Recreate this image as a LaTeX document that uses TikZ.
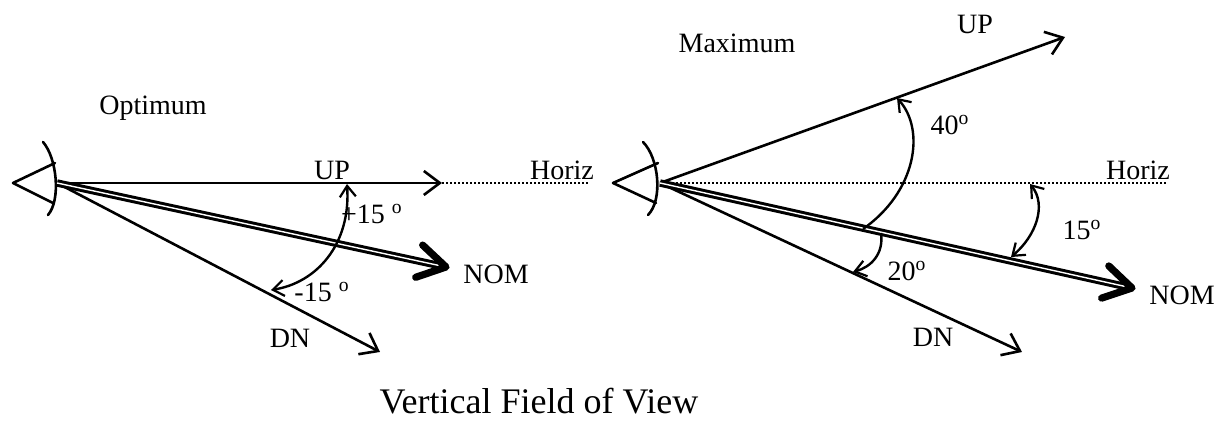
\documentclass[tikz,border=0pt]{standalone}
\usepackage{fontspec}
\setmainfont{Liberation Serif}
\usetikzlibrary{arrows.meta,calc}

\begin{document}
\begin{tikzpicture}[x=0.5pt,y=-0.5pt,
  lbl/.style={font=\fontsize{14}{16}\selectfont, inner sep=0pt},
  eyeline/.style={line width=1.3pt, line join=round, line cap=round},
  ray/.style={line width=1.3pt, -{Straight Barb[length=8pt,width=12pt,line width=1.3pt]}},
  horizline/.style={line width=1pt, densely dotted},
  nomshaft/.style={line width=1.5pt, double=white, double distance=0.7pt},
  nomhead/.style={line width=3.6pt, line join=round, line cap=round},
  angarc/.style={line width=1.2pt},
  angtip/.tip={Straight Barb[length=5.5pt,width=8pt,line width=1.1pt]}
]
\useasboundingbox (0,0) rectangle (1227,421);
%
% left: optimum
\coordinate (eyeL) at (57,183);
\coordinate (upL) at (442,183);
\coordinate (horizL) at (590,183);
\coordinate (nomL) at (446,267);
\coordinate (dnL) at (380,352);
\draw[eyeline] (55,163) -- (13,183) -- (53,203);
\draw[eyeline] (43,142) .. controls (57,158) and (61,200) .. (48,215);
\draw[horizline] (upL) -- (horizL);
\draw[ray] (eyeL) -- (upL);
\draw[ray] (eyeL) -- (dnL);
\draw[nomshaft] (eyeL) -- (nomL);
\draw[nomhead] ($(nomL)!16pt!-31:(eyeL)$) -- (nomL) -- ($(nomL)!16pt!31:(eyeL)$);
\coordinate (aL1) at (347,184);
\coordinate (aL2) at (271,290);
\draw[angarc, angtip-angtip] (aL1) .. controls (351,245) and (316,283) .. (aL2);
%
\node[lbl] (optimum) at (153,108) {Optimum};
\node[lbl] (lblupL) at (332,170) {UP};
\node[lbl] (lblhorizL) at (562,170) {Horiz};
\node[lbl] (lblnomL) at (496,274) {NOM};
\node[lbl] (lbldnL) at (290,338) {DN};
\node[lbl] (lblplus) at (372,214) {+15 \textsuperscript{o}};
\node[lbl] (lblminus) at (322,292) {-15 \textsuperscript{o}};
%
% right: maximum
\coordinate (eyeR) at (660,183);
\coordinate (upR) at (1065,37);
\coordinate (horizR) at (1168,183);
\coordinate (nomR) at (1132,288);
\coordinate (dnR) at (1022,352);
\draw[eyeline] (658,163) -- (613,183) -- (656,203);
\draw[eyeline] (643,142) .. controls (659,158) and (663,200) .. (648,215);
\draw[horizline] (eyeR) -- (horizR);
\draw[ray] (eyeR) -- (upR);
\draw[ray] (eyeR) -- (dnR);
\draw[nomshaft] (eyeR) -- (nomR);
\draw[nomhead] ($(nomR)!16pt!-31:(eyeR)$) -- (nomR) -- ($(nomR)!16pt!31:(eyeR)$);
\coordinate (aR1) at (897,98);
\coordinate (aR2) at (863,229);
\coordinate (bR1) at (881,233);
\coordinate (bR2) at (853,272);
\coordinate (cR1) at (1030,184);
\coordinate (cR2) at (1011,257);
\draw[angarc, angtip-] (aR1) .. controls (926,130) and (916,192) .. (aR2);
\draw[angarc, -angtip] (bR1) .. controls (884,254) and (871,267) .. (bR2);
\draw[angarc, angtip-angtip] (cR1) .. controls (1047,205) and (1036,236) .. (cR2);
%
\node[lbl] (maximum) at (737,43) {Maximum};
\node[lbl] (lblupR) at (975,24) {UP};
\node[lbl] (lblhorizR) at (1138,170) {Horiz};
\node[lbl] (lblnomR) at (1182,295) {NOM};
\node[lbl] (lbldnR) at (933,337) {DN};
\node[lbl] (lblforty) at (950,125) {40\textsuperscript{o}};
\node[lbl] (lbltwenty) at (907,271) {20\textsuperscript{o}};
\node[lbl] (lblfifteen) at (1082,230) {15\textsuperscript{o}};
%
\node[lbl, font=\fontsize{18}{20}\selectfont] (title) at (539,401) {Vertical Field of View};
\end{tikzpicture}
\end{document}
